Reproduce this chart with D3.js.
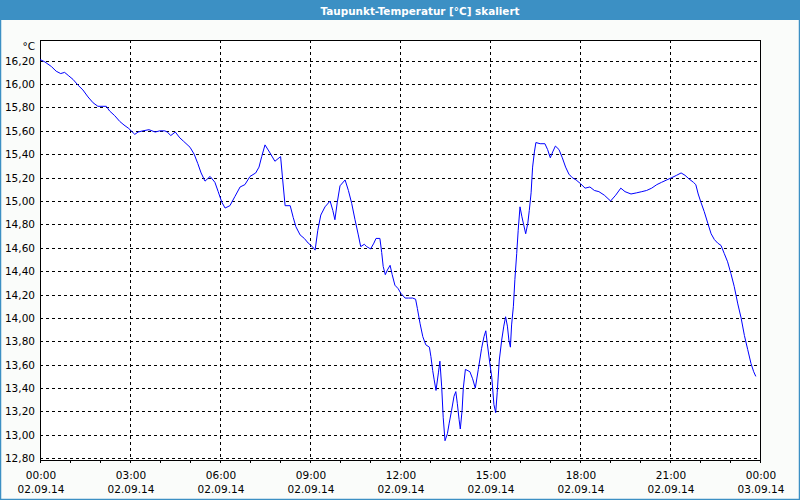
<!DOCTYPE html>
<html>
<head>
<meta charset="utf-8">
<script src="https://cdn.jsdelivr.net/npm/d3@7/dist/d3.min.js"></script>
<style>
  html, body { margin: 0; padding: 0; background: #fafcfa; }
  svg { display: block; }
</style>
</head>
<body>
<svg id="chart" width="800" height="500"></svg>
<script>
// ---- data (hours since 02.09.14 00:00, dew point °C) ----
const hours = [
  0, 0.16, 0.38, 0.54, 0.69, 0.82, 0.96, 1.1, 1.27, 1.43, 1.6, 1.77, 1.93, 2.1, 2.21, 2.32, 2.49, 2.66, 2.8, 2.96,
  3.16, 3.27, 3.43, 3.63, 3.84, 3.99, 4.16, 4.24, 4.36, 4.51, 4.66, 4.79,
  5.0, 5.14, 5.26, 5.37, 5.5, 5.67, 5.83, 5.94, 6.06, 6.17, 6.33, 6.5, 6.67, 6.83, 7.0, 7.19, 7.3, 7.39, 7.5,
  7.67, 7.83, 8.02, 8.09, 8.17, 8.34, 8.44, 8.53, 8.67, 8.81, 8.94, 9.08, 9.17, 9.26, 9.36, 9.5, 9.67,
  9.76, 9.83, 9.91, 10.0, 10.17, 10.28, 10.39, 10.5, 10.61, 10.69, 10.81, 10.89, 11.02, 11.13, 11.2, 11.33,
  11.39, 11.44, 11.51, 11.58, 11.67, 11.74, 11.83, 11.94, 12.03, 12.17, 12.28, 12.42, 12.52, 12.58, 12.67,
  12.76, 12.86, 12.98, 13.03, 13.09, 13.14, 13.2, 13.28, 13.33, 13.39, 13.44, 13.5, 13.58, 13.64, 13.72,
  13.8, 13.86, 13.91, 13.97, 14.01, 14.07, 14.11, 14.18, 14.33, 14.42, 14.51,
  14.61, 14.72, 14.8, 14.86, 14.91, 14.98, 15.06, 15.13, 15.19, 15.24, 15.31, 15.39, 15.46, 15.52, 15.58,
  15.63, 15.68, 15.72, 15.78, 15.83, 15.89, 15.94, 16.0, 16.06, 16.12, 16.19, 16.26, 16.31, 16.37, 16.42,
  16.48, 16.53, 16.67, 16.83, 16.92, 17.01, 17.09, 17.18, 17.3, 17.41, 17.52, 17.63, 17.74, 17.87, 18.01,
  18.17, 18.33, 18.48, 18.63, 18.81, 19.02, 19.19, 19.36,
  19.5, 19.7, 19.89, 20.06, 20.22, 20.39, 20.56, 20.72, 20.89, 21.06, 21.22, 21.37, 21.5, 21.63, 21.78,
  21.86, 21.94, 22.03, 22.14, 22.26, 22.37, 22.48, 22.59, 22.7, 22.81, 22.92, 23.03, 23.14, 23.26, 23.37,
  23.48, 23.59, 23.7, 23.79, 23.86
];
const dewpoint = [
  16.21, 16.19, 16.15, 16.11, 16.09, 16.10, 16.07, 16.04, 15.99, 15.95, 15.89, 15.84, 15.81, 15.81, 15.81, 15.77, 15.73, 15.68, 15.65, 15.62,
  15.57, 15.59, 15.60, 15.61, 15.59, 15.60, 15.60, 15.59, 15.56, 15.59, 15.54, 15.51,
  15.46, 15.40, 15.32, 15.24, 15.17, 15.21, 15.16, 15.08, 14.99, 14.94, 14.96, 15.04, 15.12, 15.14, 15.21, 15.24, 15.29, 15.38, 15.48,
  15.41, 15.34, 15.38, 15.18, 14.96, 14.96, 14.86, 14.78, 14.71, 14.68, 14.64, 14.61, 14.58, 14.75, 14.88, 14.95, 15.00,
  14.92, 14.84, 14.99, 15.13, 15.18, 15.09, 14.98, 14.84, 14.71, 14.61, 14.63, 14.61, 14.59, 14.64, 14.68, 14.68,
  14.56, 14.44, 14.37, 14.41, 14.45, 14.37, 14.28, 14.25, 14.21, 14.17, 14.17, 14.17, 14.16, 14.08, 13.95,
  13.84, 13.77, 13.75, 13.67, 13.55, 13.47, 13.38, 13.53, 13.63, 13.41, 13.15, 12.95, 13.01, 13.10, 13.21,
  13.33, 13.37, 13.27, 13.13, 13.05, 13.21, 13.40, 13.56, 13.54, 13.48, 13.40,
  13.56, 13.74, 13.84, 13.89, 13.78, 13.64, 13.49, 13.26, 13.19, 13.36, 13.64, 13.81, 13.93, 14.01, 13.93,
  13.81, 13.75, 13.94, 14.10, 14.33, 14.55, 14.75, 14.95, 14.87, 14.80, 14.72, 14.81, 14.92, 15.07, 15.29,
  15.42, 15.50, 15.49, 15.49, 15.44, 15.37, 15.42, 15.47, 15.44, 15.37, 15.29, 15.23, 15.20, 15.18, 15.15,
  15.11, 15.12, 15.09, 15.08, 15.05, 15.00, 15.05, 15.11,
  15.08, 15.06, 15.07, 15.08, 15.09, 15.11, 15.14, 15.16, 15.18, 15.20, 15.22, 15.24, 15.22, 15.19, 15.16,
  15.14, 15.06, 14.99, 14.91, 14.81, 14.72, 14.67, 14.64, 14.62, 14.55, 14.48, 14.38, 14.27, 14.12, 14.00,
  13.85, 13.73, 13.61, 13.54, 13.50
];
const yTicks = [12.8, 13.0, 13.2, 13.4, 13.6, 13.8, 14.0, 14.2, 14.4, 14.6, 14.8, 15.0, 15.2, 15.4, 15.6, 15.8, 16.0, 16.2];
const xTickHours = [0, 3, 6, 9, 12, 15, 18, 21, 24];
const xTimeLabels = ["00:00", "03:00", "06:00", "09:00", "12:00", "15:00", "18:00", "21:00", "00:00"];
const xDateLabels = ["02.09.14", "02.09.14", "02.09.14", "02.09.14", "02.09.14", "02.09.14", "02.09.14", "02.09.14", "03.09.14"];
const titleText = "Taupunkt-Temperatur [°C] skaliert";
const unitText = "°C";

// ---- layout ----
const W = 800, H = 500;
const plot = { left: 40, right: 760, top: 40, bottom: 460 };
const frameColor = "#3c90c4";
const font = "'DejaVu Sans', Verdana, sans-serif";

const svg = d3.select("#chart");
const x = d3.scaleLinear().domain([0, 24]).range([plot.left, plot.right]);
const y = d3.scaleLinear().domain([12.785, 16.377]).range([plot.bottom, plot.top]);

// background
svg.append("rect").attr("x", 0).attr("y", 0).attr("width", W).attr("height", H).attr("fill", "#fafcfa");

// title bar
svg.append("rect").attr("x", 0).attr("y", 0).attr("width", W).attr("height", 20).attr("fill", frameColor);
svg.append("text")
  .attr("x", 420).attr("y", 14.5)
  .attr("text-anchor", "middle")
  .attr("font-family", font)
  .attr("font-weight", "bold")
  .attr("font-size", 11)
  .attr("textLength", 199)
  .attr("lengthAdjust", "spacingAndGlyphs")
  .attr("fill", "#ffffff")
  .text(titleText);

// window frame
svg.append("rect").attr("x", 0.5).attr("y", 0.5).attr("width", W - 1).attr("height", H - 1)
  .attr("fill", "none").attr("stroke", frameColor).attr("stroke-width", 1.5);

// plot background
svg.append("rect").attr("x", plot.left).attr("y", plot.top)
  .attr("width", plot.right - plot.left).attr("height", plot.bottom - plot.top).attr("fill", "#ffffff");

// horizontal grid
const grid = svg.append("g").attr("shape-rendering", "crispEdges")
  .attr("stroke", "#000").attr("stroke-width", 1).attr("stroke-dasharray", "3,3");
grid.selectAll("line.h").data(yTicks).join("line").attr("class", "h")
  .attr("x1", plot.left).attr("x2", plot.right)
  .attr("y1", d => Math.round(y(d)) + 0.5).attr("y2", d => Math.round(y(d)) + 0.5);
grid.selectAll("line.v").data(xTickHours.filter(h => h > 0 && h < 24)).join("line").attr("class", "v")
  .attr("x1", d => Math.round(x(d)) + 0.5).attr("x2", d => Math.round(x(d)) + 0.5)
  .attr("y1", plot.top).attr("y2", plot.bottom);

// bottom axis with hourly minor ticks
const xAxis = d3.axisBottom(x)
  .tickValues(d3.range(0, 25, 1))
  .tickSize(3).tickSizeOuter(0).tickFormat("");
const gx = svg.append("g").attr("transform", `translate(0,${plot.bottom})`).attr("shape-rendering", "crispEdges").call(xAxis);
gx.select(".domain").remove();
gx.selectAll(".tick line").attr("stroke", "#000");

// frame of the plot
svg.append("rect").attr("x", plot.left + 0.5).attr("y", plot.top + 0.5)
  .attr("width", plot.right - plot.left).attr("height", plot.bottom - plot.top)
  .attr("fill", "none").attr("stroke", "#000").attr("stroke-width", 1.2).attr("shape-rendering", "crispEdges");

// x labels
const xl = svg.append("g").attr("font-family", font).attr("font-size", 10.5).attr("fill", "#000").attr("text-anchor", "middle");
xl.selectAll("text.t").data(xTickHours).join("text").attr("class", "t")
  .attr("x", d => x(d) + 1).attr("y", 479).text((d, i) => xTimeLabels[i]);
xl.selectAll("text.d").data(xTickHours).join("text").attr("class", "d")
  .attr("x", d => x(d) + 1).attr("y", 493).text((d, i) => xDateLabels[i]);

// y labels
const fmt = d3.format(".2f");
const yl = svg.append("g").attr("font-family", font).attr("font-size", 10.5).attr("fill", "#000").attr("text-anchor", "end");
yl.selectAll("text").data(yTicks).join("text")
  .attr("x", 35).attr("y", d => y(d) + 4).text(d => fmt(d).replace(".", ","));
yl.append("text").attr("x", 35).attr("y", 50).text(unitText);

// the series
const line = d3.line().x((d, i) => x(hours[i])).y(d => y(d));
svg.append("path").datum(dewpoint)
  .attr("d", line)
  .attr("fill", "none").attr("stroke", "#0000ff").attr("stroke-width", 1);
</script>
</body>
</html>
